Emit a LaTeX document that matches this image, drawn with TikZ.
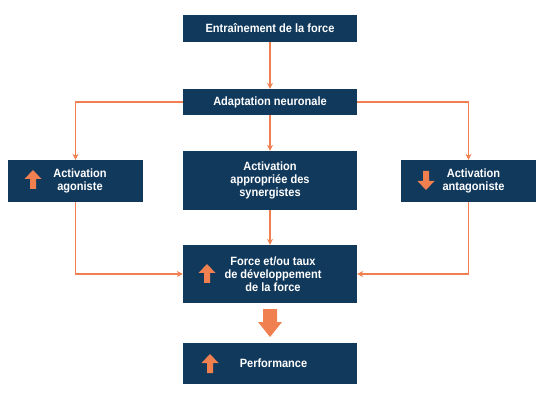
\documentclass[tikz,border=0pt]{standalone}
\usepackage{fontspec}
\setmainfont{Liberation Sans}[FakeStretch=0.92]
\usetikzlibrary{arrows.meta}
\definecolor{navy}{RGB}{17,57,92}
\definecolor{org}{RGB}{240,128,80}
\newcommand{\myuparrow}[3]{% name, cx, top y
  \fill[org] (#2,#3) -- ++(8.5,9) -- ++(-5.5,0) -- ++(0,10) -- ++(-6,0) -- ++(0,-10) -- ++(-5.5,0) -- cycle;}
\newcommand{\mydownarrow}[3]{% name, cx, bottom y
  \fill[org] (#2,#3) -- ++(8.5,-9) -- ++(-5.5,0) -- ++(0,-10) -- ++(-6,0) -- ++(0,10) -- ++(-5.5,0) -- cycle;}
\begin{document}
\begin{tikzpicture}[x=1pt,y=-1pt,
  box/.style={fill=navy,draw=none,inner sep=0pt,minimum width=174pt},
  sidebox/.style={fill=navy,draw=none,inner sep=0pt,minimum width=135pt,minimum height=42pt},
  txt/.style={text=white,font=\bfseries\fontsize{12}{13}\selectfont,align=center,inner sep=0pt},
  conn/.style={draw=org,line width=1.4pt,-{Stealth[length=6pt,width=6pt]}},
  plain/.style={draw=org,line width=1.4pt}]
\useasboundingbox (0,0) rectangle (546,395);
\node[box,minimum height=27pt] (b1) at (270,28.5) {};
\node[box,minimum height=26pt] (b2) at (270,102) {};
\node[sidebox] (left) at (75.5,181) {};
\node[sidebox] (right) at (468.5,181) {};
\node[box,minimum height=59pt] (mid) at (270,180.5) {};
\node[box,minimum height=58pt] (force) at (270,274) {};
\node[box,minimum height=41pt] (perf) at (270,363.5) {};
\node[txt] (t1) at (b1) {Entraînement de la force};
\node[txt] (t2) at (b2) {Adaptation neuronale};
\node[txt] (tl) at (80,181) {Activation\\agoniste};
\node[txt] (tr) at (473.5,181) {Activation\\antagoniste};
\node[txt] (tm) at (270,180.5) {Activation\\appropriée des\\synergistes};
\node[txt] (tf) at (273,274) {Force et/ou taux\\de développement\\de la force};
\node[txt] (tp) at (273.5,363.5) {Performance};
\myuparrow{a}{33}{170}
\mydownarrow{b}{426}{190}
\myuparrow{c}{207}{264}
\myuparrow{d}{210}{354}
\draw[conn] (b1) -- (b2);
\draw[conn] (b2.west) -| (left);
\draw[conn] (b2.east) -| (right);
\draw[conn] (b2) -- (mid);
\draw[conn] (mid) -- (force);
\draw[conn] (left) |- (force.west);
\draw[conn] (right) |- (force.east);
\coordinate (bigtop) at (270,309);
\fill[org] (bigtop) ++(-7,0) -- ++(14,0) -- ++(0,13) -- ++(5,0) -- (270,337) -- (258,322) -- (263,322) -- cycle;
\end{tikzpicture}
\end{document}
